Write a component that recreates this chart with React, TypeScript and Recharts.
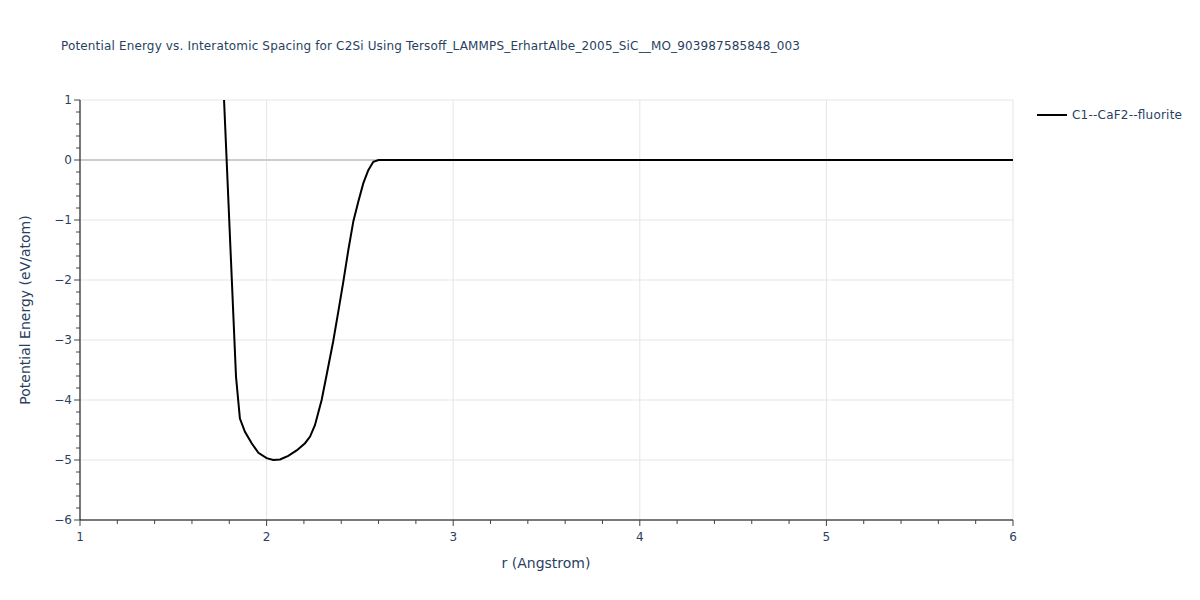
import React from "react";
import { LineChart, Line, XAxis, YAxis, CartesianGrid } from "recharts";

const rValues = [1.76, 1.836, 1.857, 1.884, 1.92, 1.956, 2.0, 2.036, 2.072, 2.116, 2.161, 2.206, 2.233, 2.259, 2.295, 2.325, 2.357, 2.384, 2.411, 2.438, 2.465, 2.491, 2.518, 2.545, 2.572, 2.6, 2.8, 3.0, 3.5, 4.0, 4.5, 5.0, 5.5, 6.0];
const energyValues = [1.86, -3.61, -4.31, -4.53, -4.72, -4.88, -4.97, -5.0, -4.99, -4.93, -4.84, -4.72, -4.61, -4.42, -4.0, -3.53, -3.02, -2.53, -2.03, -1.5, -1.02, -0.7, -0.39, -0.17, -0.03, 0, 0, 0, 0, 0, 0, 0, 0, 0];
const seriesName = "C1--CaF2--fluorite";
const xMajorTicks = [1, 2, 3, 4, 5, 6];
const yMajorTicks = [1, 0, -1, -2, -3, -4, -5, -6];
const title = "Potential Energy vs. Interatomic Spacing for C2Si Using Tersoff_LAMMPS_ErhartAlbe_2005_SiC__MO_903987585848_003";
const xLabel = "r (Angstrom)";
const yLabel = "Potential Energy (eV/atom)";

const data = rValues.map((r, i) => ({ r, e: energyValues[i] }));

const minorTicks = (lo: number, hi: number, step: number) => {
  const out: number[] = [];
  const n = Math.round((hi - lo) / step);
  for (let i = 0; i <= n; i++) out.push(Math.round((lo + i * step) * 1000) / 1000);
  return out;
};
const xTicks = minorTicks(1, 6, 0.2);
const yTicks = minorTicks(-6, 1, 0.2);

const FONT = '"DejaVu Sans", Verdana, sans-serif';
const TEXT = "#2a3f5f";
const fmt = (v: number) => (v < 0 ? "\u2212" + Math.abs(v) : String(v));
const isMajor = (v: number) => Math.abs(v - Math.round(v)) < 1e-6;

const XTick = (props: any) => {
  const { x, y, payload } = props;
  const v = payload.value;
  const major = isMajor(v);
  return (
    <g>
      <line x1={x} y1={y} x2={x} y2={y + (major ? 6 : 4)} stroke="#444" strokeWidth={1} />
      {major && (
        <text x={x} y={y + 21} textAnchor="middle" fontSize={12} fill={TEXT} fontFamily={FONT}>
          {fmt(v)}
        </text>
      )}
    </g>
  );
};

const YTick = (props: any) => {
  const { x, y, payload } = props;
  const v = payload.value;
  const major = isMajor(v);
  return (
    <g>
      <line x1={x} y1={y} x2={x - (major ? 6 : 4)} y2={y} stroke="#444" strokeWidth={1} />
      {major && (
        <text x={x - 8} y={y + 4} textAnchor="end" fontSize={12} fill={TEXT} fontFamily={FONT}>
          {fmt(v)}
        </text>
      )}
    </g>
  );
};

export default function App() {
  return (
    <div style={{ position: "absolute", left: 0, top: 0, width: 1200, height: 600, background: "#fff", fontFamily: FONT }}>
      <LineChart width={1200} height={600} data={data} margin={{ top: 100, right: 187, bottom: 50, left: 40 }}>
        <CartesianGrid stroke="#e5e5e5" strokeWidth={1} horizontalValues={yMajorTicks} verticalValues={xMajorTicks} />
        <CartesianGrid stroke="#cccccc" strokeWidth={2} vertical={false} horizontalValues={[0]} />
        <XAxis
          type="number"
          dataKey="r"
          domain={[1, 6]}
          ticks={xTicks}
          allowDataOverflow
          height={30}
          tickSize={0}
          tickMargin={0}
          tickLine={false}
          axisLine={{ stroke: "#000", strokeWidth: 1 }}
          tick={<XTick />}
          interval={0}
        />
        <YAxis
          type="number"
          dataKey="e"
          domain={[-6, 1]}
          ticks={yTicks}
          allowDataOverflow
          width={40}
          tickSize={0}
          tickMargin={0}
          tickLine={false}
          axisLine={{ stroke: "#000", strokeWidth: 1 }}
          tick={<YTick />}
          interval={0}
        />
        <Line type="linear" dataKey="e" name={seriesName} stroke="#000" strokeWidth={2} dot={false} isAnimationActive={false} />
      </LineChart>
      <svg style={{ position: "absolute", left: 0, top: 0, pointerEvents: "none" }} width={1200} height={600}>
        <text x={61} y={50} fontSize={12} fill={TEXT} fontFamily={FONT} textLength={739} lengthAdjust="spacing">
          {title}
        </text>
        <line x1={1037} y1={115} x2={1067} y2={115} stroke="#000" strokeWidth={2} />
        <text x={1072} y={119} fontSize={12} fill={TEXT} fontFamily={FONT} textLength={110} lengthAdjust="spacing">
          {seriesName}
        </text>
        <text x={546} y={568} textAnchor="middle" fontSize={14} fill={TEXT} fontFamily={FONT}>
          {xLabel}
        </text>
        <text x={30} y={310} textAnchor="middle" fontSize={14} fill={TEXT} fontFamily={FONT} transform="rotate(-90 30 310)">
          {yLabel}
        </text>
      </svg>
    </div>
  );
}
